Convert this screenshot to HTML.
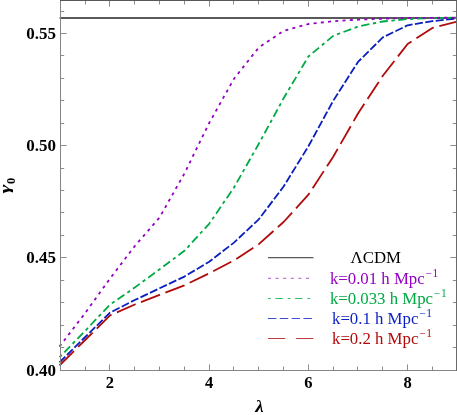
<!DOCTYPE html>
<html><head><meta charset="utf-8"><style>
html,body{margin:0;padding:0;background:#fff;}
svg{display:block;font-family:"Liberation Serif",serif;will-change:transform;}
</style></head><body>
<svg width="457" height="415" viewBox="0 0 457 415">
<rect width="457" height="415" fill="#fff"/>
<g fill="none" stroke-linejoin="round">
<path d="M59.6 18.05 H457" stroke="#222" stroke-width="1.55"/>
<polyline points="59.50,365.39 60.40,364.50 85.20,340.00 110.00,315.40 134.80,304.50 159.60,294.80 184.40,285.30 209.20,273.30 234.00,260.40 258.80,244.20 283.60,222.00 308.40,194.70 333.20,156.80 358.00,113.50 382.80,75.80 407.60,44.00 432.40,27.90 457.20,21.60" stroke="#b00a0a" stroke-width="1.8" stroke-dasharray="20.4 5.8"/>
<polyline points="59.50,362.39 60.40,361.50 85.20,337.00 110.00,312.70 134.80,300.00 159.60,288.30 184.40,276.60 209.20,261.70 234.00,242.60 258.80,219.30 283.60,186.50 308.40,146.30 333.20,100.80 358.00,61.90 382.80,37.40 407.60,25.30 432.40,21.10 457.20,18.60" stroke="#0a1fc0" stroke-width="1.8" stroke-dasharray="8.1 2.4"/>
<polyline points="59.50,357.23 60.40,356.30 85.20,330.80 110.00,304.60 134.80,287.50 159.60,269.30 184.40,250.80 209.20,223.80 234.00,187.50 258.80,143.80 283.60,98.30 308.40,56.50 333.20,35.90 358.00,26.50 382.80,21.50 407.60,19.10 432.40,18.00 457.20,17.70" stroke="#00aa44" stroke-width="1.8" stroke-dasharray="3.3 3.6 8.3 3.6"/>
<polyline points="59.50,346.58 60.40,345.40 85.20,313.00 110.00,278.60 134.80,246.00 159.60,217.40 184.40,173.50 209.20,123.00 234.00,78.70 258.80,47.50 283.60,30.80 308.40,24.00 333.20,21.20 358.00,19.70 382.80,18.70 407.60,18.00 432.40,17.80 457.20,17.70" stroke="#9400c4" stroke-width="1.8" stroke-dasharray="3 4.27"/>
</g>
<g fill="none" stroke-width="1">
<path d="M60.5 0 V371.0" stroke="#858585"/>
<path d="M60.0 370.5 H457.0" stroke="#858585"/>
<path d="M456.5 0 V371.0" stroke="#6a6a6a"/>
<path d="M60.0 0.5 H457.0" stroke="#585858"/>
<path d="M85.5 370.0 v-3.5 M85.5 1.0 v3.5 M109.5 370.0 v-5.6 M109.5 1.0 v5.6 M134.5 370.0 v-3.5 M134.5 1.0 v3.5 M159.5 370.0 v-3.5 M159.5 1.0 v3.5 M184.5 370.0 v-3.5 M184.5 1.0 v3.5 M209.5 370.0 v-5.6 M209.5 1.0 v5.6 M233.5 370.0 v-3.5 M233.5 1.0 v3.5 M258.5 370.0 v-3.5 M258.5 1.0 v3.5 M283.5 370.0 v-3.5 M283.5 1.0 v3.5 M308.5 370.0 v-5.6 M308.5 1.0 v5.6 M333.5 370.0 v-3.5 M333.5 1.0 v3.5 M357.5 370.0 v-3.5 M357.5 1.0 v3.5 M382.5 370.0 v-3.5 M382.5 1.0 v3.5 M407.5 370.0 v-5.6 M407.5 1.0 v5.6 M432.5 370.0 v-3.5 M432.5 1.0 v3.5 M61.0 347.5 h3.2 M456.0 347.5 h-3.2 M61.0 325.5 h3.2 M456.0 325.5 h-3.2 M61.0 302.5 h3.2 M456.0 302.5 h-3.2 M61.0 280.5 h3.2 M456.0 280.5 h-3.2 M61.0 257.5 h5.6 M456.0 257.5 h-5.6 M61.0 235.5 h3.2 M456.0 235.5 h-3.2 M61.0 212.5 h3.2 M456.0 212.5 h-3.2 M61.0 190.5 h3.2 M456.0 190.5 h-3.2 M61.0 168.5 h3.2 M456.0 168.5 h-3.2 M61.0 145.5 h5.6 M456.0 145.5 h-5.6 M61.0 123.5 h3.2 M456.0 123.5 h-3.2 M61.0 100.5 h3.2 M456.0 100.5 h-3.2 M61.0 78.5 h3.2 M456.0 78.5 h-3.2 M61.0 55.5 h3.2 M456.0 55.5 h-3.2 M61.0 33.5 h5.6 M456.0 33.5 h-5.6 M61.0 11.5 h3.2 M456.0 11.5 h-3.2" stroke="#8c8c8c"/>
</g>
<g fill="none" stroke-width="1">
<path d="M268 257.7 H313.5" stroke="#5a5a5a" stroke-width="1.2"/>
<path d="M268 278.3 H313.5" stroke="#9400c4" stroke-dasharray="3 4.6" stroke-opacity="0.7"/>
<path d="M268 298.5 H313.5" stroke="#00aa44" stroke-dasharray="2.8 4.6 7.4 4.9" stroke-opacity="0.8"/>
<path d="M268 318.5 H313.5" stroke="#0a1fc0" stroke-dasharray="8.5 3.3" stroke-opacity="0.8"/>
<path d="M268 338.5 H313.5" stroke="#b00a0a" stroke-dasharray="17.3 10.8" stroke-opacity="0.8"/>
</g>
<g font-size="16.8px">
<text x="350.6" y="263" fill="#000">ΛCDM</text>
<text x="329.9" y="284" fill="#9400c4">k=0.01 h Mpc<tspan dy="-6.6" dx="0.8" font-size="11.5px" letter-spacing="0.6">−1</tspan></text>
<text x="329.9" y="303.6" fill="#00aa44">k=0.033 h Mpc<tspan dy="-6.6" dx="0.8" font-size="11.5px" letter-spacing="0.6">−1</tspan></text>
<text x="332" y="323.8" fill="#0a1fc0">k=0.1 h Mpc<tspan dy="-6.6" dx="0.8" font-size="11.5px" letter-spacing="0.6">−1</tspan></text>
<text x="332" y="344" fill="#b00a0a">k=0.2 h Mpc<tspan dy="-6.6" dx="0.8" font-size="11.5px" letter-spacing="0.6">−1</tspan></text>
</g>
<g font-size="16.5px" font-weight="bold" fill="#000">
<text x="56" y="38.7" text-anchor="end" font-size="17px">0.55</text>
<text x="56" y="150.7" text-anchor="end" font-size="17px">0.50</text>
<text x="56" y="263.2" text-anchor="end" font-size="17px">0.45</text>
<text x="56" y="375.5" text-anchor="end" font-size="17px">0.40</text>
<text x="109.8" y="388" text-anchor="middle">2</text>
<text x="209" y="388" text-anchor="middle">4</text>
<text x="308.4" y="388" text-anchor="middle">6</text>
<text x="407.6" y="388" text-anchor="middle">8</text>
<text transform="translate(259.4,411.8) scale(1.12,0.93)" text-anchor="middle" font-size="17px" font-style="italic">λ</text>
<text transform="translate(10.15,193.5) rotate(-90) scale(1.3,0.88)" font-size="16.5px" font-style="italic">γ</text>
<text transform="translate(15.2,183.9) rotate(-90)" font-size="12.5px">0</text>
</g>
</svg>
</body></html>
